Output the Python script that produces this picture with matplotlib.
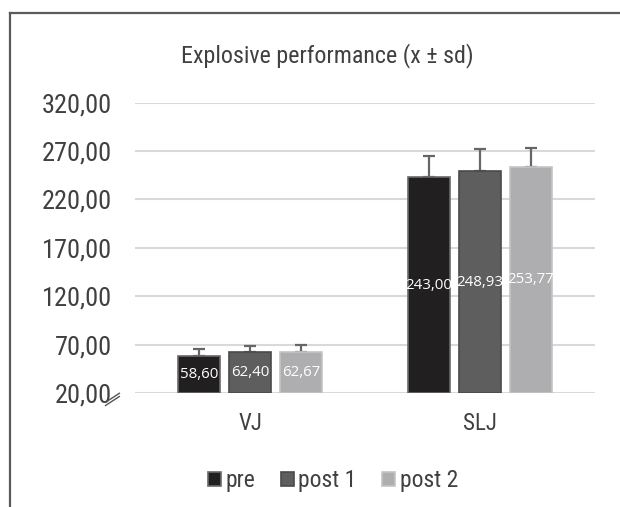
"""
Explosive performance bar chart (mean +/- sd), Excel-like style.
"""

import os
import numpy as np
import matplotlib
matplotlib.use("Agg")
from matplotlib import pyplot as plt
from matplotlib import font_manager
from matplotlib.lines import Line2D


# Data
categories = ["VJ", "SLJ"]
series_labels = ["pre", "post 1", "post 2"]
pre_vals = [58.60, 243.00]
post1_vals = [62.40, 248.93]
post2_vals = [62.67, 253.77]
pre_sd = [6.5, 22.1]
post1_sd = [6.5, 23.2]
post2_sd = [6.9, 19.0]
y_ticks = [20, 70, 120, 170, 220, 270, 320]

# Visual elements
FILL_COLORS = ["#221f20", "#5e5e5e", "#aeaeb0"]
EDGE_COLORS = ["#6a6a6a", "#4a4a4a", "#c4c4c4"]
TEXT_COLOR = "#404040"
GRID_COLOR = "#d9d9d9"
BAR_WIDTH = 0.183
BAR_STEP = 0.222


def find_narrow_font():
    """
    Look for a condensed sans font (like Arial Narrow); None if nothing found.
    """
    prefs = ["liberationsansnarrow", "robotocondensed", "notosans", "opensans", "dejavusans"]
    found = []
    for f in font_manager.fontManager.ttflist:
        base = os.path.basename(f.fname).lower().replace("-", "").replace("_", "")
        if not ("narrow" in base or "condensed" in base):
            continue
        if any(k in base for k in ["bold", "italic", "light", "thin", "black", "medium",
                                   "semicondensed", "extracondensed", "oblique"]):
            continue
        for rank, p in enumerate(prefs):
            if base.startswith(p):
                found.append((rank, f.fname))
                break
        else:
            found.append((len(prefs), f.fname))
    if not found:
        return None
    return sorted(found)[0][1]


narrow_path = find_narrow_font()
if narrow_path:
    font_manager.fontManager.addfont(narrow_path)
    LABEL_FONT = font_manager.FontProperties(fname=narrow_path)
    BIG = 16.5
    TICK = 19
else:
    LABEL_FONT = font_manager.FontProperties(family="Liberation Sans")
    BIG = 16
    TICK = 16

fig = plt.figure(figsize=(6.2, 5.07), dpi=100)
ax = fig.add_axes([135 / 620, 1 - 393 / 507, 460 / 620, (393 - 102.7) / 507])

x = np.arange(len(categories))
all_vals = [pre_vals, post1_vals, post2_vals]
all_sd = [pre_sd, post1_sd, post2_sd]
base = y_ticks[0]

for i, (vals, sds) in enumerate(zip(all_vals, all_sd)):
    xpos = x + (i - 1) * BAR_STEP
    heights = np.array(vals) - base
    ax.bar(xpos, heights, bottom=base, width=BAR_WIDTH, color=FILL_COLORS[i],
           edgecolor=EDGE_COLORS[i], linewidth=1.2, label=series_labels[i], zorder=3)
    ax.errorbar(xpos, vals, yerr=[np.zeros(len(sds)), sds], fmt="none",
                ecolor="#666666", elinewidth=1.6, capsize=4.3, capthick=1.6, zorder=2)
    for xp, v in zip(xpos, vals):
        ax.text(xp, (v + base) / 2, f"{v:.2f}".replace(".", ","), ha="center",
                va="center", color="white", fontsize=10.8,
                family=["Open Sans", "DejaVu Sans"], zorder=4)

ax.set_ylim(y_ticks[0], y_ticks[-1])
ax.set_xlim(-0.5, len(categories) - 0.5)
ax.set_yticks(y_ticks)
ax.set_yticklabels([f"{t:.2f}".replace(".", ",") for t in y_ticks])
ax.set_xticks(x)
ax.set_xticklabels(categories)
for lab in ax.get_yticklabels():
    lab.set_fontproperties(LABEL_FONT)
    lab.set_fontsize(TICK)
for lab in ax.get_xticklabels():
    lab.set_fontproperties(LABEL_FONT)
    lab.set_fontsize(BIG)
ax.tick_params(axis="y", length=0, pad=16.5, labelcolor=TEXT_COLOR)
ax.tick_params(axis="x", length=0, pad=14, labelcolor=TEXT_COLOR)
ax.yaxis.grid(True, color=GRID_COLOR, linewidth=1.5, zorder=0)
ax.set_axisbelow(True)
for spine in ax.spines.values():
    spine.set_visible(False)

# axis break mark below the y axis origin
for off in (0.0, 0.011):
    ax.plot([-0.064, -0.034], [-0.043 + off, -0.012 + off], transform=ax.transAxes,
            color="#555555", linewidth=1.0, clip_on=False)

fig.text(327 / 620, 1 - 56 / 507, "Explosive performance (x \u00b1 sd)",
         ha="center", va="center", fontproperties=LABEL_FONT, fontsize=BIG + 0.8,
         color=TEXT_COLOR)

leg_font = LABEL_FONT.copy()
leg_font.set_size(BIG + 0.5)
fig.legend(loc="center", bbox_to_anchor=(333 / 620, 1 - 481 / 507), ncol=3,
           frameon=False, prop=leg_font, labelcolor=TEXT_COLOR, handlelength=0.55,
           handleheight=0.55, handletextpad=0.18, columnspacing=1.1)

# outer frame (top and left only)
fig.add_artist(Line2D([10 / 620, 1], [1 - 13 / 507] * 2, color="#5a5a5a", linewidth=1.6))
fig.add_artist(Line2D([10 / 620] * 2, [0, 1 - 13 / 507], color="#5a5a5a", linewidth=1.6))

fig.savefig("out.png", dpi=100)
